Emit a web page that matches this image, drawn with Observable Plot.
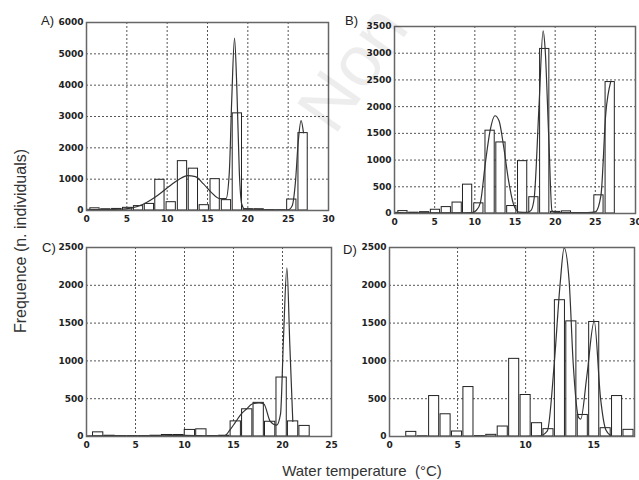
<!DOCTYPE html>
<html><head><meta charset="utf-8">
<script src="https://cdn.jsdelivr.net/npm/d3@7"></script>
<script src="https://cdn.jsdelivr.net/npm/@observablehq/plot@0.6"></script>
<style>
body{margin:0;background:#fff;}
#wrap{position:relative;width:639px;height:480px;overflow:hidden;background:#fff;font-family:"Liberation Sans",Arial,sans-serif;color:#222;}
.panel{position:absolute;}
.panel svg{overflow:visible;}
.lab{position:absolute;font-size:13px;line-height:13px;color:#222;}
#ytitle{position:absolute;left:21px;top:241px;transform:translate(-50%,-50%) rotate(-90deg);white-space:nowrap;font-size:16px;color:#333;}
#xtitle{position:absolute;left:362px;top:470px;transform:translate(-50%,-50%);white-space:nowrap;font-size:15px;color:#333;}
#wm{position:absolute;left:352px;top:68px;transform:translate(-50%,-50%) rotate(-55deg);font-size:72px;color:rgba(0,0,0,0.07);white-space:nowrap;font-family:"Liberation Sans",Arial,sans-serif;}
</style></head>
<body><div id="wrap">
<div class="panel" id="pA" style="left:0;top:0"></div>
<div class="panel" id="pB" style="left:320px;top:0"></div>
<div class="panel" id="pC" style="left:0;top:230px"></div>
<div class="panel" id="pD" style="left:320px;top:230px"></div>
<div class="lab" style="left:41px;top:14px">A)</div>
<div class="lab" style="left:345px;top:14px">B)</div>
<div class="lab" style="left:42px;top:241px">C)</div>
<div class="lab" style="left:343px;top:243px">D)</div>
<div id="ytitle">Frequence (n. individuals)</div>
<div id="xtitle">Water temperature&nbsp;&nbsp;(°C)</div>
<div id="wm">Non</div>
</div>
<script>
// ---- Panel A & B (same bins) ----
const binCentersAB = [1.05, 2.4, 3.75, 5.1, 6.45, 7.8, 9.1, 10.5, 11.9, 13.25, 14.6, 15.95, 17.35, 18.7, 20.05, 21.4, 22.75, 24.1, 25.45, 26.85];
const countsA = [70, 40, 50, 85, 140, 210, 980, 265, 1575, 1335, 170, 1000, 330, 3100, 40, 40, 10, 5, 350, 2470];
const countsB = [45, 15, 25, 70, 120, 205, 540, 190, 1550, 1330, 140, 980, 305, 3080, 30, 40, 5, 5, 340, 2460];
const fitXA = [0, 2, 4, 5.5, 7.1, 8.8, 10.4, 11.5, 12.5, 13.5, 14.5, 15.5, 16.5, 17.3, 17.7, 18.0, 18.35, 18.65, 18.95, 19.25, 19.6, 21, 23, 25, 25.5, 25.9, 26.25, 26.6, 26.9];
const fitYA = [40, 30, 40, 75, 210, 480, 800, 1000, 1115, 1080, 850, 570, 380, 380, 1200, 3500, 5500, 3800, 1200, 200, 50, 40, 20, 20, 150, 900, 2200, 2870, 2480];
const fitXB = [0, 2, 4, 6, 8, 9.6, 10.2, 10.7, 11.3, 11.9, 12.5, 13.0, 13.6, 14.2, 14.8, 15.5, 16.5, 17.0, 17.4, 18.0, 18.5, 18.75, 19.2, 19.6, 20.0, 22, 24, 25.0, 25.7, 26.3, 26.9];
const fitYB = [20, 10, 10, 10, 10, 15, 60, 210, 930, 1550, 1830, 1740, 1240, 615, 180, 25, 20, 60, 305, 2050, 3420, 3080, 1430, 55, 20, 15, 15, 30, 340, 1870, 2460];
// ---- Panel C ----
const binCentersC = [1.19, 2.36, 3.53, 4.7, 5.87, 7.04, 8.21, 9.38, 10.55, 11.72, 12.89, 14.06, 15.23, 16.4, 17.57, 18.74, 19.91, 21.08, 22.25, 23.42];
const countsC = [55, 10, 5, 5, 5, 10, 20, 20, 87, 95, 5, 10, 200, 360, 445, 195, 780, 200, 140, 0];
const fitXC = [0, 2, 4, 6, 8, 10, 12, 13.5, 14.1, 14.6, 15.2, 15.8, 16.3, 16.9, 17.6, 18.1, 18.75, 19.4, 19.8, 20.1, 20.45, 20.75, 21.05];
const fitYC = [10, 10, 5, 5, 10, 15, 10, 5, 10, 80, 190, 300, 360, 430, 445, 430, 200, 150, 300, 1300, 2230, 1200, 200];
// ---- Panel D ----
const binCentersD = [1.6, 2.44, 3.28, 4.12, 4.96, 5.8, 6.64, 7.48, 8.32, 9.16, 10.0, 10.84, 11.68, 12.52, 13.36, 14.2, 15.04, 15.88, 16.72, 17.56];
const countsD = [61, 3, 535, 294, 66, 654, 5, 22, 132, 1027, 549, 176, 97, 1803, 1523, 285, 1515, 110, 535, 88];
const fitXD = [0, 2, 4, 6, 8, 10, 11.0, 11.6, 12.1, 12.55, 12.83, 13.2, 13.5, 13.9, 14.05, 14.5, 15.04, 15.5, 15.9, 16.3];
const fitYD = [0, 0, 0, 0, 0, 0, 5, 75, 955, 2050, 2495, 2050, 955, 250, 230, 800, 1527, 515, 85, 5];
// ---- tick labels ----
const xTicksAB = [0, 5, 10, 15, 20, 25, 30];
const yTicksA = [0, 1000, 2000, 3000, 4000, 5000, 6000];
const yTicksB = [0, 500, 1000, 1500, 2000, 2500, 3000, 3500];
const xTicksC = [0, 5, 10, 15, 20, 25];
const yTicksCD = [0, 500, 1000, 1500, 2000, 2500];
const xTicksD = [0, 5, 10, 15];

function panel(o) {
  const bars = o.centers.map((c, i) => ({c, v: o.counts[i]}));
  const fit = o.fx.map((x, i) => ({x, y: o.fy[i]}));
  const innerX = o.xTicks.filter(t => t > o.xDomain[0] && t < o.xDomain[1]);
  const innerY = o.yTicks.filter(t => t > o.yDomain[0] && t < o.yDomain[1]);
  const w = o.barW;
  const fmt = d => String(d);
  return Plot.plot({
    width: o.width, height: o.height,
    marginLeft: o.ml, marginRight: o.mr, marginTop: o.mt, marginBottom: o.mb,
    x: {domain: o.xDomain, label: null}, y: {domain: o.yDomain, label: null},
    style: {fontFamily: "'DejaVu Sans', sans-serif", fontSize: "9px", fontWeight: "bold", color: "#222", background: "transparent", overflow: "visible"},
    marks: [
      Plot.gridX(innerX, {stroke: "#555", strokeOpacity: 1, strokeDasharray: "2,2"}),
      Plot.gridY(innerY, {stroke: "#555", strokeOpacity: 1, strokeDasharray: "2,2"}),
      Plot.rect(bars, {x1: d => d.c - w / 2, x2: d => d.c + w / 2, y1: 0, y2: "v", fill: "white", stroke: "#222", strokeWidth: 1}),
      Plot.line(fit, {x: "x", y: "y", curve: "monotone-x", stroke: "#333", strokeWidth: 1.2, clip: true}),
      Plot.frame({stroke: "#666", strokeWidth: 1.5}),
      Plot.axisX(o.xTicks, {tickSize: 0, tickPadding: 5, fill: "#222", tickFormat: fmt, label: null}),
      Plot.axisY(o.yTicks, {tickSize: 0, tickPadding: 3, fill: "#222", tickFormat: fmt, label: null})
    ]
  });
}

document.getElementById("pA").append(panel({
  xDomain: [0, 30], yDomain: [0, 6000], xTicks: xTicksAB, yTicks: yTicksA,
  centers: binCentersAB, counts: countsA, barW: 1.15, fx: fitXA, fy: fitYA,
  width: 330, height: 232, ml: 86, mr: 2, mt: 22, mb: 22
}));
document.getElementById("pB").append(panel({
  xDomain: [0, 30], yDomain: [0, 3500], xTicks: xTicksAB, yTicks: yTicksB,
  centers: binCentersAB, counts: countsB, barW: 1.15, fx: fitXB, fy: fitYB,
  width: 319, height: 235, ml: 74, mr: 4, mt: 26, mb: 22
}));
document.getElementById("pC").append(panel({
  xDomain: [0, 25], yDomain: [0, 2500], xTicks: xTicksC, yTicks: yTicksCD,
  centers: binCentersC, counts: countsC, barW: 1.05, fx: fitXC, fy: fitYC,
  width: 335, height: 230, ml: 86, mr: 4, mt: 17, mb: 24
}));
document.getElementById("pD").append(panel({
  xDomain: [0, 18], yDomain: [0, 2500], xTicks: xTicksD, yTicks: yTicksCD,
  centers: binCentersD, counts: countsD, barW: 0.74, fx: fitXD, fy: fitYD,
  width: 319, height: 230, ml: 69, mr: 5, mt: 17, mb: 24
}));
</script>
</body></html>
